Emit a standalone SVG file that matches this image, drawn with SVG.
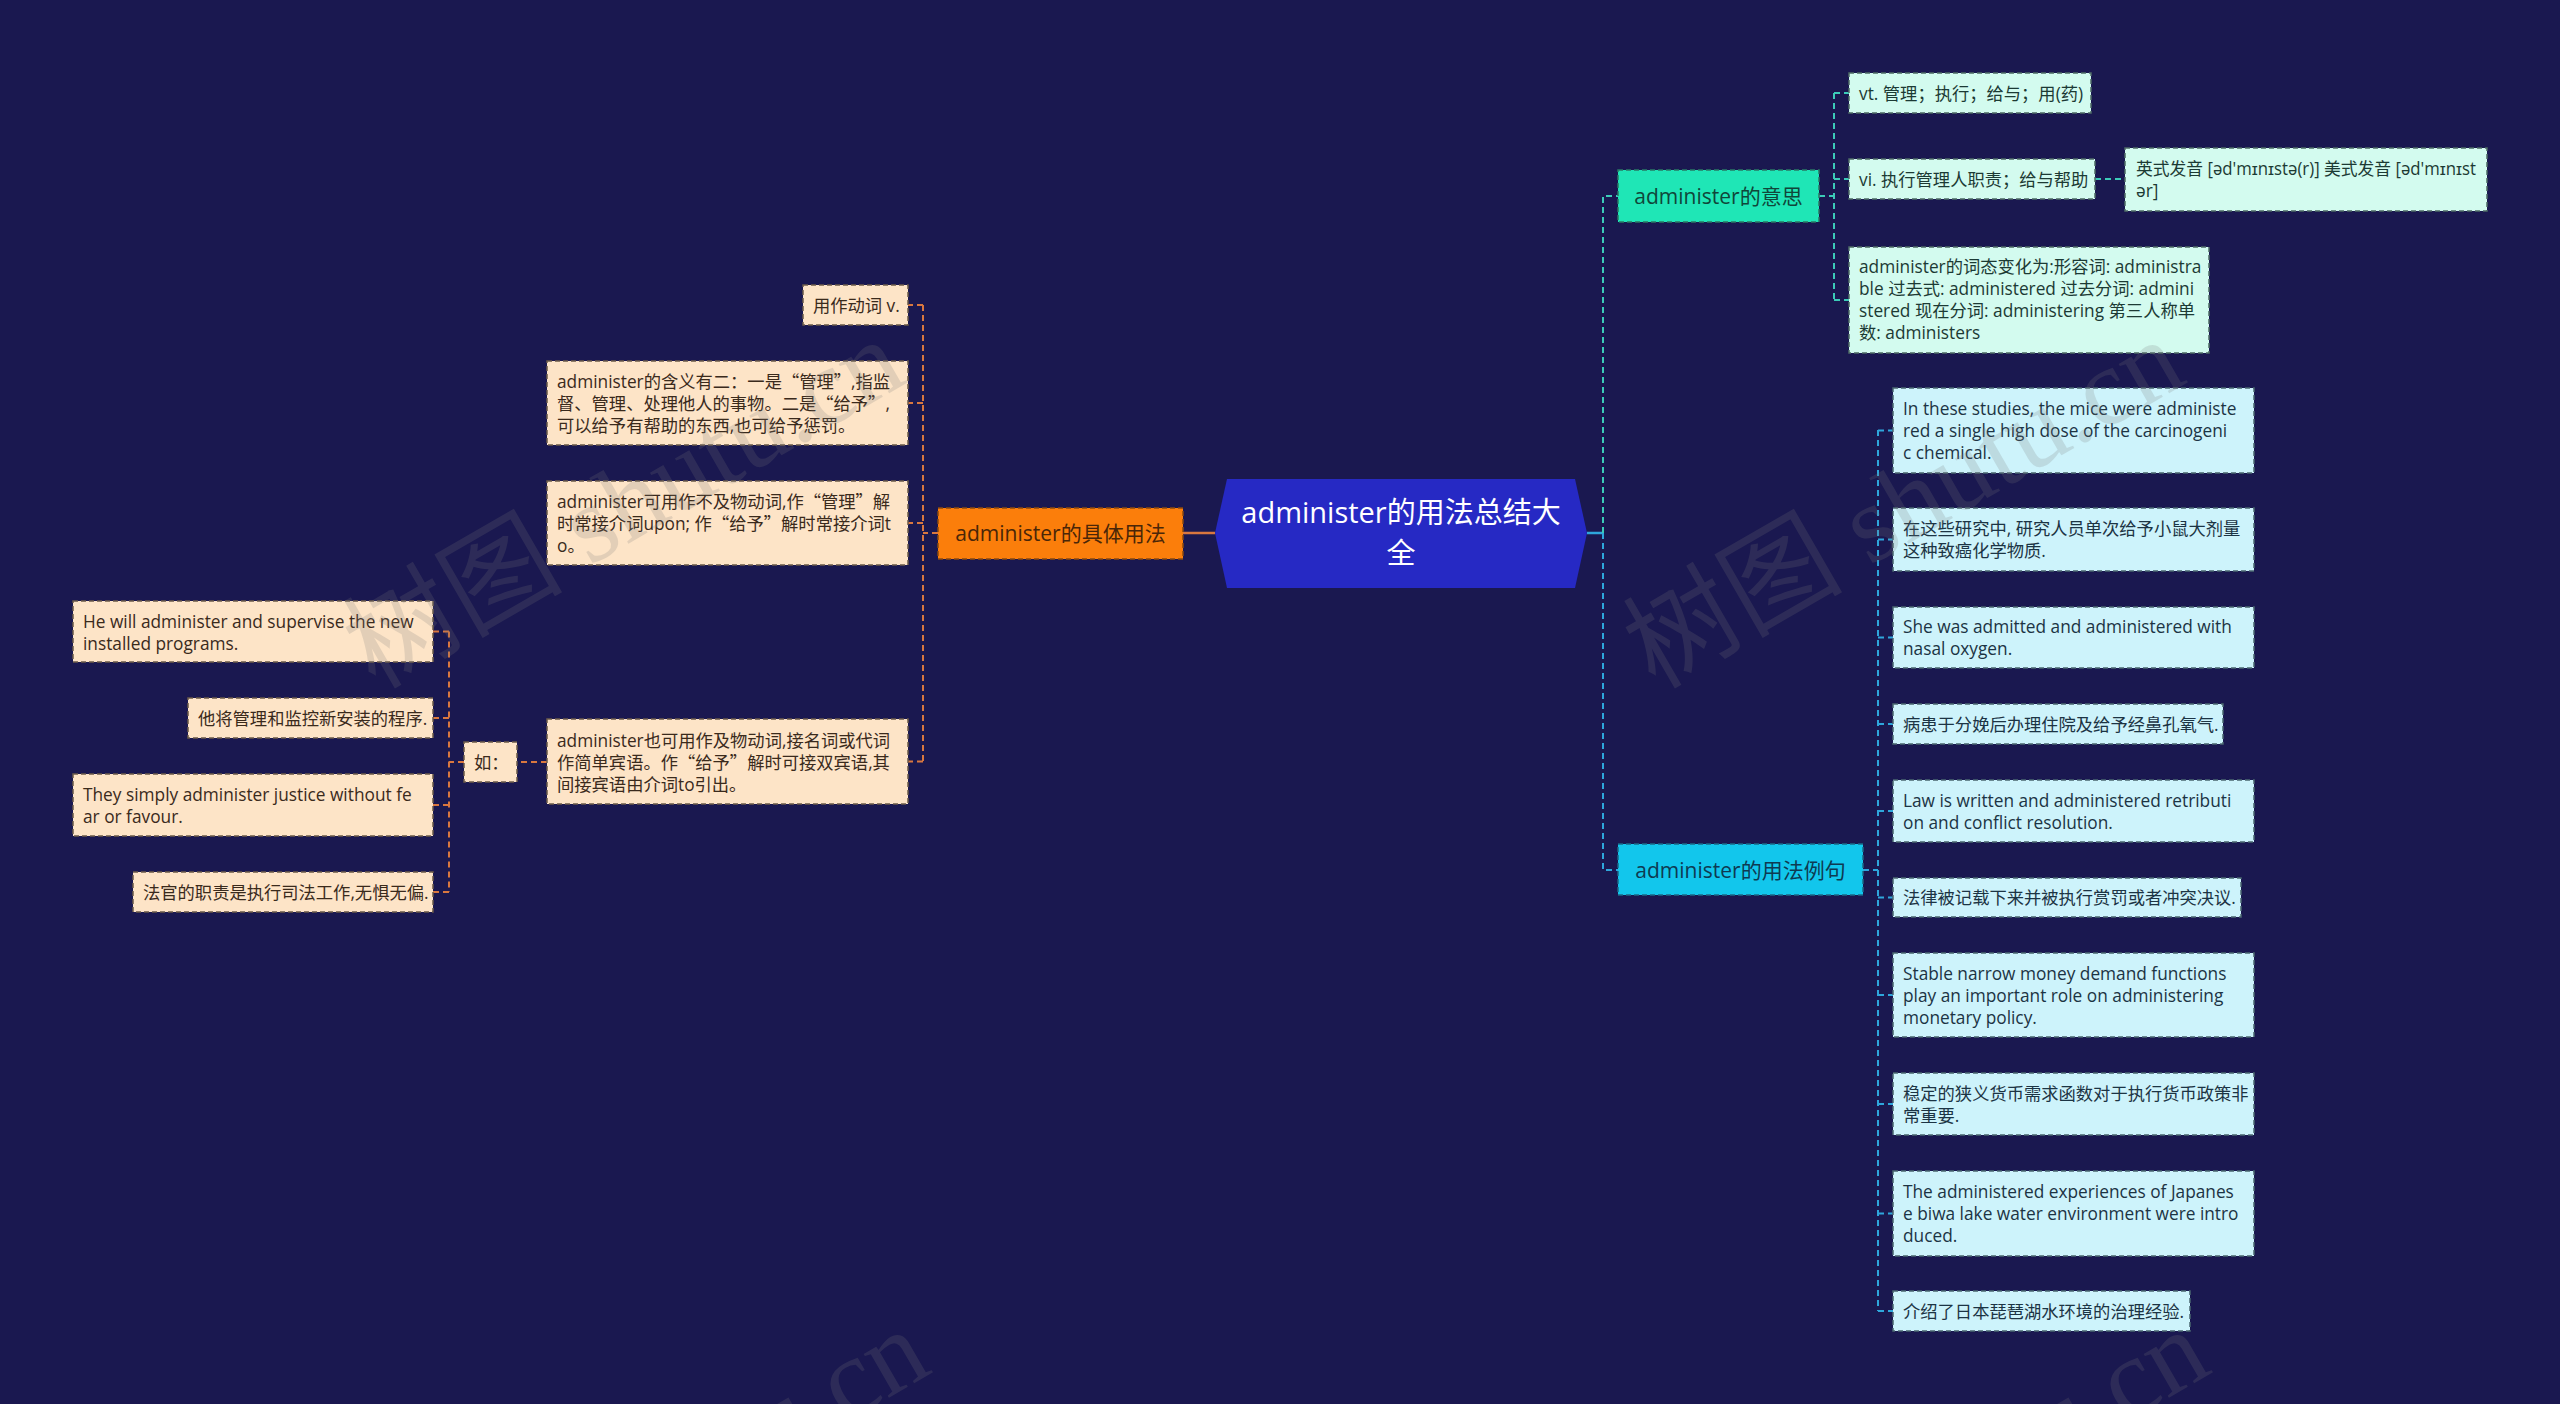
<svg xmlns="http://www.w3.org/2000/svg" width="2560" height="1404" viewBox="0 0 2560 1404">
<defs>
<style>
text{font-family:"Open Sans","Noto Sans CJK SC",sans-serif;}
.q{font-family:"Noto Sans CJK SC",sans-serif;}
.lf{font-size:17.3px;}
.box{stroke-width:1.5;stroke-dasharray:5 3;}
.pe{fill:#fde4c7;stroke:#6b5a4a;}
.pt{fill:#3a2a1c;}
.mi{fill:#d3fbef;stroke:#4d6b66;}
.mt{fill:#1c3a34;}
.cy{fill:#cdf3fb;stroke:#4a6770;}
.ct{fill:#1c3444;}
.c{fill:none;stroke-width:2;stroke-dasharray:6 4;}
.s{stroke-dasharray:none;stroke-width:2.5;}
.co{stroke:#d9773f;}
.cm{stroke:#3ccbb8;}
.cb{stroke:#2ea6dc;}
.ttl{font-size:21px;text-anchor:middle;}
#watermark text{font-family:"Liberation Serif","Noto Sans CJK SC",serif;font-size:110px;fill:#7a7a7a;opacity:.2;}
</style>
</defs>
<rect width="2560" height="1404" fill="#1a1850"/>

<g id="connectors">
<path class="c co s" d="M1215 533H1183"/>
<path class="c co" d="M938 533H923M923 305V762M923 305H908M923 403H908M923 523H908M923 761.5H908M547 762H517M464 762H449M449 631.5V892M449 631.5H433M449 718H433M449 805H433M449 892H433"/>
<path class="c cb s" d="M1587 533H1603"/>
<path class="c cm" d="M1603 533V196H1618M1819 196H1834M1834 93V300M1834 93H1849M1834 179H1849M1834 300H1849M2095 179H2125"/>
<path class="c cb" d="M1603 533V870H1618M1863 870H1878M1878 430V1311M1878 430.5H1893M1878 539.5H1893M1878 637.5H1893M1878 724H1893M1878 811H1893M1878 897.5H1893M1878 995H1893M1878 1104H1893M1878 1213.5H1893M1878 1311H1893"/>
</g>

<g id="root">
<polygon points="1215,533 1227,479 1575,479 1587,533 1575,588 1227,588" fill="#2629c4"/>
<text x="1401" y="523" text-anchor="middle" font-size="29" fill="#ffffff">administer的用法总结大</text>
<text x="1401" y="564" text-anchor="middle" font-size="29" fill="#ffffff">全</text>
</g>

<g id="n-usage">
<rect class="box" x="938" y="508" width="245" height="51" fill="#fb7e0b" stroke="#8a4a10"/>
<text class="ttl" x="1060.5" y="541" fill="#4a2608">administer的具体用法</text>
</g>
<g id="n-usage-1">
<rect class="box pe" x="803" y="285" width="105" height="40"/>
<text class="lf pt" x="813" y="312">用作动词 v.</text>
</g>
<g id="n-usage-2">
<rect class="box pe" x="547" y="361" width="361" height="84"/>
<text class="lf pt" x="557" y="388">administer的含义有二：一是<tspan class="q">“</tspan>管理<tspan class="q">”</tspan>,指监</text>
<text class="lf pt" x="557" y="410">督、管理、处理他人的事物。二是<tspan class="q">“</tspan>给予<tspan class="q">”</tspan>,</text>
<text class="lf pt" x="557" y="432">可以给予有帮助的东西,也可给予惩罚。</text>
</g>
<g id="n-usage-3">
<rect class="box pe" x="547" y="481" width="361" height="84"/>
<text class="lf pt" x="557" y="508">administer可用作不及物动词,作<tspan class="q">“</tspan>管理<tspan class="q">”</tspan>解</text>
<text class="lf pt" x="557" y="530">时常接介词upon; 作<tspan class="q">“</tspan>给予<tspan class="q">”</tspan>解时常接介词t</text>
<text class="lf pt" x="557" y="552">o。</text>
</g>
<g id="n-usage-4">
<rect class="box pe" x="547" y="719" width="361" height="85"/>
<text class="lf pt" x="557" y="747">administer也可用作及物动词,接名词或代词</text>
<text class="lf pt" x="557" y="769">作简单宾语。作<tspan class="q">“</tspan>给予<tspan class="q">”</tspan>解时可接双宾语,其</text>
<text class="lf pt" x="557" y="791">间接宾语由介词to引出。</text>
</g>
<g id="n-ru">
<rect class="box pe" x="464" y="742" width="53" height="40"/>
<text class="lf pt" x="474" y="769">如：</text>
</g>
<g id="n-ex-1">
<rect class="box pe" x="73" y="601" width="360" height="61"/>
<text class="lf pt" x="83" y="628">He will administer and supervise the new</text>
<text class="lf pt" x="83" y="650">installed programs.</text>
</g>
<g id="n-ex-2">
<rect class="box pe" x="188" y="698" width="245" height="40"/>
<text class="lf pt" x="198" y="725">他将管理和监控新安装的程序.</text>
</g>
<g id="n-ex-3">
<rect class="box pe" x="73" y="774" width="360" height="62"/>
<text class="lf pt" x="83" y="801">They simply administer justice without fe</text>
<text class="lf pt" x="83" y="823">ar or favour.</text>
</g>
<g id="n-ex-4">
<rect class="box pe" x="133" y="872" width="300" height="40"/>
<text class="lf pt" x="143" y="899">法官的职责是执行司法工作,无惧无偏.</text>
</g>

<g id="n-meaning">
<rect class="box" x="1618" y="170" width="201" height="52" fill="#1fe6b6" stroke="#2a7a66"/>
<text class="ttl" x="1718.5" y="204" fill="#10463a">administer的意思</text>
</g>
<g id="n-m-1">
<rect class="box mi" x="1849" y="73" width="242" height="40"/>
<text class="lf mt" x="1859" y="100">vt. 管理；执行；给与；用(药)</text>
</g>
<g id="n-m-2">
<rect class="box mi" x="1849" y="159" width="246" height="40"/>
<text class="lf mt" x="1859" y="186">vi. 执行管理人职责；给与帮助</text>
</g>
<g id="n-m-3">
<rect class="box mi" x="2125" y="148" width="362" height="63"/>
<text class="lf mt" x="2136" y="175" textLength="340" lengthAdjust="spacingAndGlyphs">英式发音 [əd'mɪnɪstə(r)] 美式发音 [əd'mɪnɪst</text>
<text class="lf mt" x="2136" y="197">ər]</text>
</g>
<g id="n-m-4">
<rect class="box mi" x="1849" y="247" width="360" height="106"/>
<text class="lf mt" x="1859" y="273">administer的词态变化为:形容词: administra</text>
<text class="lf mt" x="1859" y="295">ble 过去式: administered 过去分词: admini</text>
<text class="lf mt" x="1859" y="317">stered 现在分词: administering 第三人称单</text>
<text class="lf mt" x="1859" y="339">数: administers</text>
</g>

<g id="n-examples">
<rect class="box" x="1618" y="844" width="245" height="51" fill="#12c6ec" stroke="#1a6a88"/>
<text class="ttl" x="1740.5" y="878" fill="#0e3a52">administer的用法例句</text>
</g>
<g id="n-e-1">
<rect class="box cy" x="1893" y="388" width="361" height="85"/>
<text class="lf ct" x="1903" y="415">In these studies, the mice were administe</text>
<text class="lf ct" x="1903" y="437">red a single high dose of the carcinogeni</text>
<text class="lf ct" x="1903" y="459">c chemical.</text>
</g>
<g id="n-e-2">
<rect class="box cy" x="1893" y="508" width="361" height="63"/>
<text class="lf ct" x="1903" y="535">在这些研究中, 研究人员单次给予小鼠大剂量</text>
<text class="lf ct" x="1903" y="557">这种致癌化学物质.</text>
</g>
<g id="n-e-3">
<rect class="box cy" x="1893" y="607" width="361" height="61"/>
<text class="lf ct" x="1903" y="633">She was admitted and administered with</text>
<text class="lf ct" x="1903" y="655">nasal oxygen.</text>
</g>
<g id="n-e-4">
<rect class="box cy" x="1893" y="704" width="330" height="40"/>
<text class="lf ct" x="1903" y="731">病患于分娩后办理住院及给予经鼻孔氧气.</text>
</g>
<g id="n-e-5">
<rect class="box cy" x="1893" y="780" width="361" height="62"/>
<text class="lf ct" x="1903" y="807">Law is written and administered retributi</text>
<text class="lf ct" x="1903" y="829">on and conflict resolution.</text>
</g>
<g id="n-e-6">
<rect class="box cy" x="1893" y="878" width="348" height="39"/>
<text class="lf ct" x="1903" y="904">法律被记载下来并被执行赏罚或者冲突决议.</text>
</g>
<g id="n-e-7">
<rect class="box cy" x="1893" y="953" width="361" height="84"/>
<text class="lf ct" x="1903" y="980">Stable narrow money demand functions</text>
<text class="lf ct" x="1903" y="1002">play an important role on administering</text>
<text class="lf ct" x="1903" y="1024">monetary policy.</text>
</g>
<g id="n-e-8">
<rect class="box cy" x="1893" y="1073" width="361" height="62"/>
<text class="lf ct" x="1903" y="1100">稳定的狭义货币需求函数对于执行货币政策非</text>
<text class="lf ct" x="1903" y="1122">常重要.</text>
</g>
<g id="n-e-9">
<rect class="box cy" x="1893" y="1171" width="361" height="85"/>
<text class="lf ct" x="1903" y="1198">The administered experiences of Japanes</text>
<text class="lf ct" x="1903" y="1220">e biwa lake water environment were intro</text>
<text class="lf ct" x="1903" y="1242">duced.</text>
</g>
<g id="n-e-10">
<rect class="box cy" x="1893" y="1291" width="297" height="40"/>
<text class="lf ct" x="1903" y="1318">介绍了日本琵琶湖水环境的治理经验.</text>
</g>

<g id="watermark">
<text transform="translate(375 690) rotate(-30)">树图 shutu.cn</text>
<text transform="translate(1655 690) rotate(-30)">树图 shutu.cn</text>
<text transform="translate(400 1680) rotate(-30)">树图 shutu.cn</text>
<text transform="translate(1680 1680) rotate(-30)">树图 shutu.cn</text>
</g>
</svg>
